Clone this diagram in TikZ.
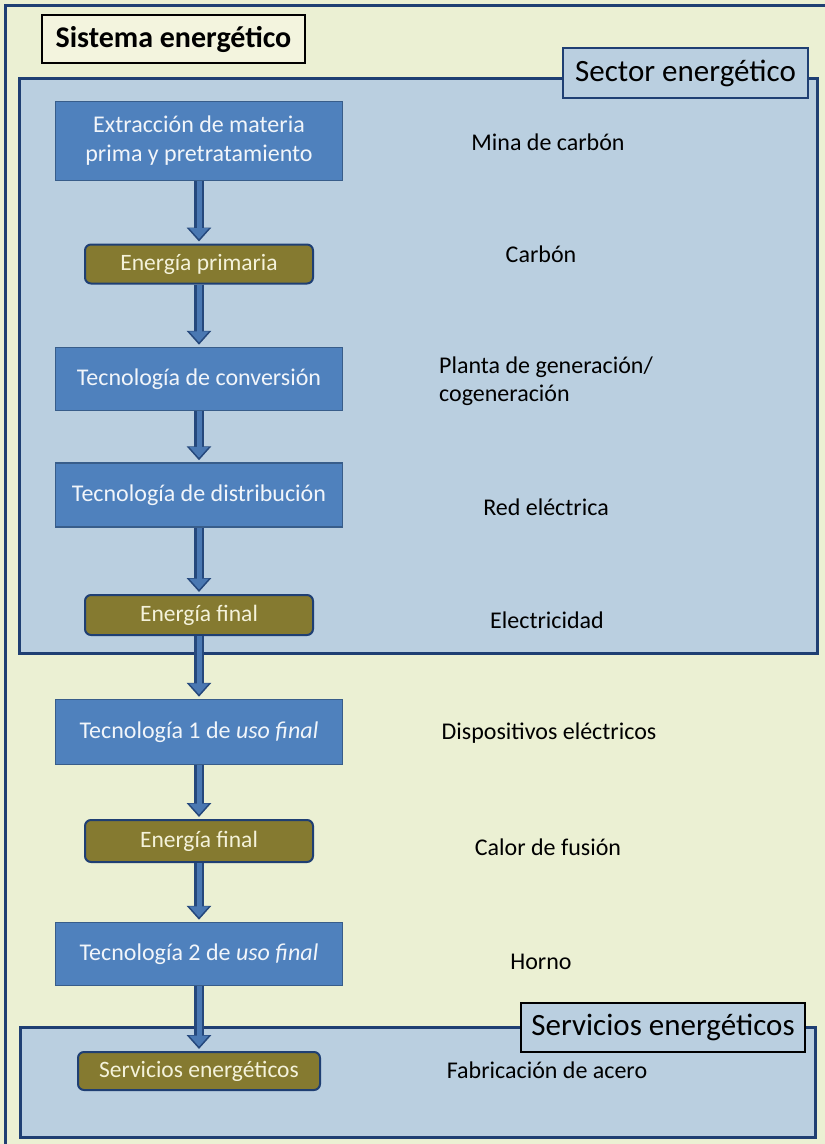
\documentclass[tikz,border=0pt]{standalone}
\usepackage{fontspec}
\setmainfont{Carlito}
\usetikzlibrary{arrows.meta}

\definecolor{fondo}{HTML}{EBF0D3}
\definecolor{panel}{HTML}{BACFE0}
\definecolor{azul}{HTML}{4F81BD}
\definecolor{azulborde}{HTML}{385D8A}
\definecolor{marino}{HTML}{1F3F73}
\definecolor{oliva}{HTML}{857A30}
\definecolor{crema}{HTML}{F4F2DA}
\definecolor{titulo}{HTML}{F3F4DE}
\definecolor{flechaazul}{HTML}{4A78B2}

\begin{document}
\begin{tikzpicture}[x=1pt,y=-1pt,
  tec/.style={rectangle, draw=azulborde, line width=1.5pt, fill=azul, text=white!92!azul, minimum width=287pt, align=center, font=\fontsize{24}{29}\selectfont},
  energia/.style={rectangle, rounded corners=6pt, draw=marino, line width=2pt, fill=oliva, text=crema, minimum width=228pt, minimum height=39pt, font=\fontsize{23.5}{27}\selectfont},
  nota/.style={align=left, text=black, font=\fontsize{24}{28}\selectfont},
  etiqueta/.style={rectangle, draw=marino, line width=2.5pt, fill=panel, inner sep=0pt, font=\fontsize{31}{34}\selectfont},
  flecha/.style={preaction={draw=marino!85!flechaazul, line width=10pt, -{Triangle[width=24pt,length=14pt]}, shorten >=2pt},
    draw=flechaazul, line width=5pt, -{Triangle[width=19pt,length=11pt]}, shorten >=4.5pt}]

            \clip (0,0) rectangle (825,1144);
            \fill[fondo] (0,0) rectangle (825,1144);
            \draw[marino, line width=3pt] (5,5) rectangle (840,1160);

            % paneles de fondo
            \draw[marino, line width=3pt, fill=panel] (19,78) rectangle (817,653);
            \draw[marino, line width=3pt, fill=panel] (20,1027) rectangle (815,1137);

            \node[rectangle, draw=black, line width=2pt, fill=titulo, minimum width=263pt, minimum height=48pt, font=\fontsize{30}{33}\selectfont\bfseries] (sistema) at (173.5,39) {Sistema energ\'etico};
            \node[etiqueta, minimum width=245pt, minimum height=50pt] (sector) at (685.5,73) {Sector energ\'etico};
            \node[etiqueta, draw=black, line width=2pt, minimum width=284pt, minimum height=49pt] (servicios) at (663,1027.5) {Servicios energ\'eticos};

            % cadena de la izquierda
            \node[tec, minimum height=79pt] (extraccion) at (199,141) {Extracci\'on de materia\\prima y pretratamiento};
            \node[energia] (primaria) at (199,264) {Energ\'ia primaria};
            \node[tec, minimum height=63pt] (conversion) at (199,379) {Tecnolog\'ia de conversi\'on};
            \node[tec, minimum height=64pt] (distribucion) at (199,495) {Tecnolog\'ia de distribuci\'on};
            \node[energia, minimum height=40pt] (final1) at (199,615) {Energ\'ia final};
            \node[tec, minimum height=65pt] (uso1) at (199,732) {Tecnolog\'ia 1 de \textit{uso final}};
            \node[energia, minimum height=42pt] (final2) at (199,841) {Energ\'ia final};
            \node[tec, minimum height=63pt] (uso2) at (199,954) {Tecnolog\'ia 2 de \textit{uso final}};
            \node[energia, minimum width=242pt, minimum height=38pt] (serv) at (199,1071) {Servicios energ\'eticos};

            % ejemplos de la derecha
            \node[nota] (mina) at (548,142) {Mina de carb\'on};
            \node[nota] (carbon) at (541,254) {Carb\'on};
            \node[nota] (planta) at (546,381) {Planta de generaci\'on/\\cogeneraci\'on};
            \node[nota] (red) at (546,507) {Red el\'ectrica};
            \node[nota] (electricidad) at (547,620) {Electricidad};
            \node[nota] (dispositivos) at (549,733) {Dispositivos el\'ectricos};
            \node[nota] (calor) at (548,847) {Calor de fusi\'on};
            \node[nota] (horno) at (541,962) {Horno};
            \node[nota] (acero) at (547,1070) {Fabricaci\'on de acero};

            \draw[flecha] (extraccion.south) to (primaria.north);
            \draw[flecha] (primaria.south) to (conversion.north);
            \draw[flecha] (conversion.south) to (distribucion.north);
            \draw[flecha] (distribucion.south) to (final1.north);
            \draw[flecha] (final1.south) to (uso1.north);
            \draw[flecha] (uso1.south) to (final2.north);
            \draw[flecha] (final2.south) to (uso2.north);
            \draw[flecha] (uso2.south) to (serv.north);
        \end{tikzpicture}
\end{document}
